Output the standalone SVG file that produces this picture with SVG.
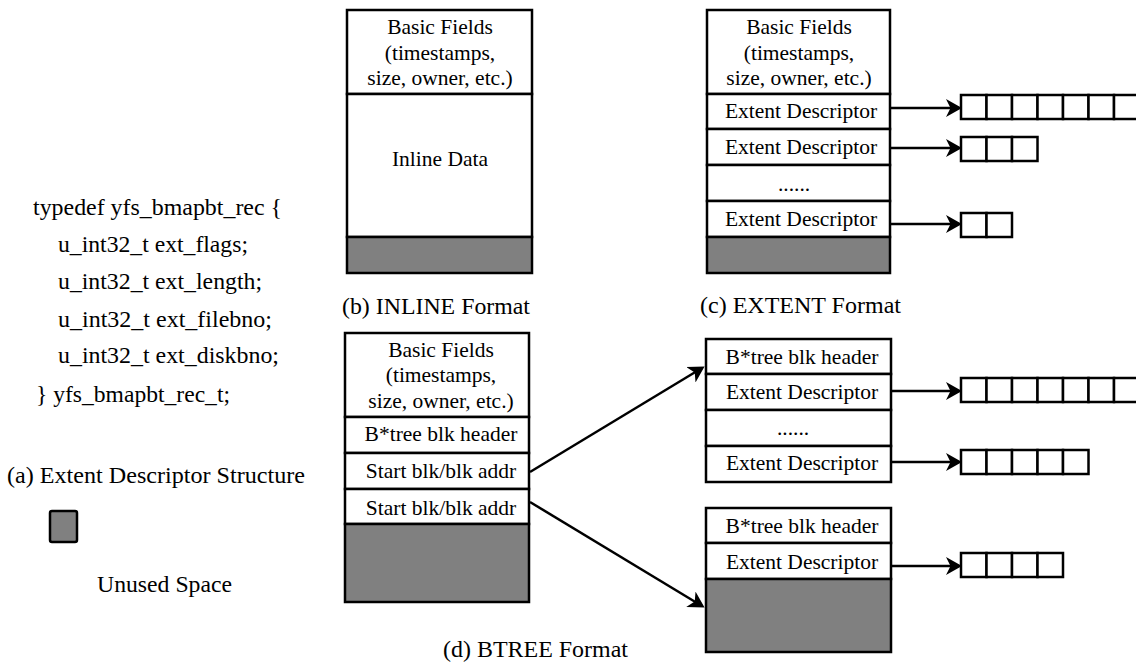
<svg xmlns="http://www.w3.org/2000/svg" width="1136" height="662" viewBox="0 0 1136 662">
<style>
.box{fill:#fff;stroke:#000;stroke-width:2.5}
.gray{fill:#808080;stroke:#000;stroke-width:2.5}
.cell{fill:#fff;stroke:#000;stroke-width:2.5}
.t{font-family:"Liberation Serif","Times New Roman",serif;font-size:21.5px;fill:#000;text-anchor:middle}
.lt{font-family:"Liberation Serif","Times New Roman",serif;font-size:23px;fill:#000}
.arr{stroke:#000;stroke-width:2.5;fill:none;marker-end:url(#ah)}
</style>
<defs>
<marker id="ah" markerUnits="userSpaceOnUse" markerWidth="20" markerHeight="20" refX="13" refY="9.5" orient="auto">
<path d="M0,0.5 L16,9.5 L0,18.5 L4.5,9.5 Z" fill="#000"/>
</marker>
</defs>
<rect width="1136" height="662" fill="#fff"/>

<g id="struct-a">
<text class="lt" x="33" y="215" textLength="249" lengthAdjust="spacingAndGlyphs">typedef yfs_bmapbt_rec {</text>
<text class="lt" x="58" y="252" textLength="190" lengthAdjust="spacingAndGlyphs">u_int32_t ext_flags;</text>
<text class="lt" x="58" y="289" textLength="204" lengthAdjust="spacingAndGlyphs">u_int32_t ext_length;</text>
<text class="lt" x="58" y="327" textLength="214" lengthAdjust="spacingAndGlyphs">u_int32_t ext_filebno;</text>
<text class="lt" x="58" y="363" textLength="221" lengthAdjust="spacingAndGlyphs">u_int32_t ext_diskbno;</text>
<text class="lt" x="36" y="402" textLength="194" lengthAdjust="spacingAndGlyphs">} yfs_bmapbt_rec_t;</text>
<text class="lt" x="7" y="483" textLength="298" lengthAdjust="spacingAndGlyphs">(a) Extent Descriptor Structure</text>
</g>

<g id="legend">
<rect class="gray" x="50" y="511" width="27" height="31" rx="2"/>
<text class="lt" x="97" y="592" textLength="135" lengthAdjust="spacingAndGlyphs">Unused Space</text>
</g>

<g id="inline-b">
<rect class="box" x="347" y="10" width="185" height="84"/>
<rect class="box" x="347" y="94" width="185" height="143"/>
<rect class="gray" x="347" y="237" width="185" height="36"/>
<text class="t" x="440" y="34">Basic Fields</text>
<text class="t" x="440" y="60">(timestamps,</text>
<text class="t" x="440" y="85">size, owner, etc.)</text>
<text class="t" x="440" y="166">Inline Data</text>
<text class="lt" x="342" y="314" textLength="188" lengthAdjust="spacingAndGlyphs">(b) INLINE Format</text>
</g>

<g id="extent-c">
<rect class="box" x="707" y="10" width="183" height="84"/>
<rect class="box" x="707" y="94" width="183" height="35"/>
<rect class="box" x="707" y="129" width="183" height="36"/>
<rect class="box" x="707" y="165" width="183" height="36"/>
<rect class="box" x="707" y="201" width="183" height="36"/>
<rect class="gray" x="707" y="237" width="183" height="36"/>
<text class="t" x="799" y="34">Basic Fields</text>
<text class="t" x="799" y="60">(timestamps,</text>
<text class="t" x="799" y="85">size, owner, etc.)</text>
<text class="t" x="801" y="118">Extent Descriptor</text>
<text class="t" x="801" y="154">Extent Descriptor</text>
<text class="t" x="794" y="191">......</text>
<text class="t" x="801" y="226">Extent Descriptor</text>
<text class="lt" x="700" y="313" textLength="201" lengthAdjust="spacingAndGlyphs">(c) EXTENT Format</text>
</g>

<g id="extent-c-blocks">
<rect class="cell" x="961" y="95" width="25.5" height="24"/>
<rect class="cell" x="986.5" y="95" width="25.5" height="24"/>
<rect class="cell" x="1012" y="95" width="25.5" height="24"/>
<rect class="cell" x="1037.5" y="95" width="25.5" height="24"/>
<rect class="cell" x="1063" y="95" width="25.5" height="24"/>
<rect class="cell" x="1088.5" y="95" width="25.5" height="24"/>
<rect class="cell" x="1114" y="95" width="25.5" height="24"/>
<rect class="cell" x="961" y="137" width="25.5" height="24"/>
<rect class="cell" x="986.5" y="137" width="25.5" height="24"/>
<rect class="cell" x="1012" y="137" width="25.5" height="24"/>
<rect class="cell" x="961" y="213" width="25.5" height="24"/>
<rect class="cell" x="986.5" y="213" width="25.5" height="24"/>
</g>

<g id="btree-root">
<rect class="box" x="345" y="333" width="184" height="84"/>
<rect class="box" x="345" y="417" width="184" height="36"/>
<rect class="box" x="345" y="453" width="184" height="36"/>
<rect class="box" x="345" y="489" width="184" height="35"/>
<rect class="gray" x="345" y="524" width="184" height="78"/>
<text class="t" x="441" y="357">Basic Fields</text>
<text class="t" x="441" y="382">(timestamps,</text>
<text class="t" x="441" y="408">size, owner, etc.)</text>
<text class="t" x="441" y="441">B*tree blk header</text>
<text class="t" x="441" y="478">Start blk/blk addr</text>
<text class="t" x="441" y="515">Start blk/blk addr</text>
<text class="lt" x="443" y="657" textLength="185" lengthAdjust="spacingAndGlyphs">(d) BTREE Format</text>
</g>

<g id="btree-leaf1">
<rect class="box" x="706" y="339" width="185" height="35"/>
<rect class="box" x="706" y="374" width="185" height="36"/>
<rect class="box" x="706" y="410" width="185" height="36"/>
<rect class="box" x="706" y="446" width="185" height="36"/>
<text class="t" x="802" y="364">B*tree blk header</text>
<text class="t" x="802" y="399">Extent Descriptor</text>
<text class="t" x="793" y="435">......</text>
<text class="t" x="802" y="470">Extent Descriptor</text>
</g>

<g id="btree-leaf1-blocks">
<rect class="cell" x="961" y="378" width="25.5" height="24"/>
<rect class="cell" x="986.5" y="378" width="25.5" height="24"/>
<rect class="cell" x="1012" y="378" width="25.5" height="24"/>
<rect class="cell" x="1037.5" y="378" width="25.5" height="24"/>
<rect class="cell" x="1063" y="378" width="25.5" height="24"/>
<rect class="cell" x="1088.5" y="378" width="25.5" height="24"/>
<rect class="cell" x="1114" y="378" width="25.5" height="24"/>
<rect class="cell" x="961" y="450" width="25.5" height="24"/>
<rect class="cell" x="986.5" y="450" width="25.5" height="24"/>
<rect class="cell" x="1012" y="450" width="25.5" height="24"/>
<rect class="cell" x="1037.5" y="450" width="25.5" height="24"/>
<rect class="cell" x="1063" y="450" width="25.5" height="24"/>
</g>

<g id="btree-leaf2">
<rect class="box" x="706" y="508" width="185" height="35"/>
<rect class="box" x="706" y="543" width="185" height="36"/>
<rect class="gray" x="706" y="579" width="185" height="73"/>
<text class="t" x="802" y="533">B*tree blk header</text>
<text class="t" x="802" y="569">Extent Descriptor</text>
</g>

<g id="btree-leaf2-blocks">
<rect class="cell" x="961" y="553" width="25.5" height="24"/>
<rect class="cell" x="986.5" y="553" width="25.5" height="24"/>
<rect class="cell" x="1012" y="553" width="25.5" height="24"/>
<rect class="cell" x="1037.5" y="553" width="25.5" height="24"/>
</g>

<g id="connectors">
<line class="arr" x1="890" y1="108" x2="959" y2="108"/>
<line class="arr" x1="890" y1="148" x2="959" y2="148"/>
<line class="arr" x1="890" y1="224" x2="959" y2="224"/>
<line class="arr" x1="891" y1="391" x2="959" y2="391"/>
<line class="arr" x1="891" y1="462" x2="959" y2="462"/>
<line class="arr" x1="891" y1="566" x2="959" y2="566"/>
<line class="arr" x1="530" y1="472" x2="702" y2="368"/>
<line class="arr" x1="530" y1="502" x2="702" y2="606"/>
</g>
</svg>
